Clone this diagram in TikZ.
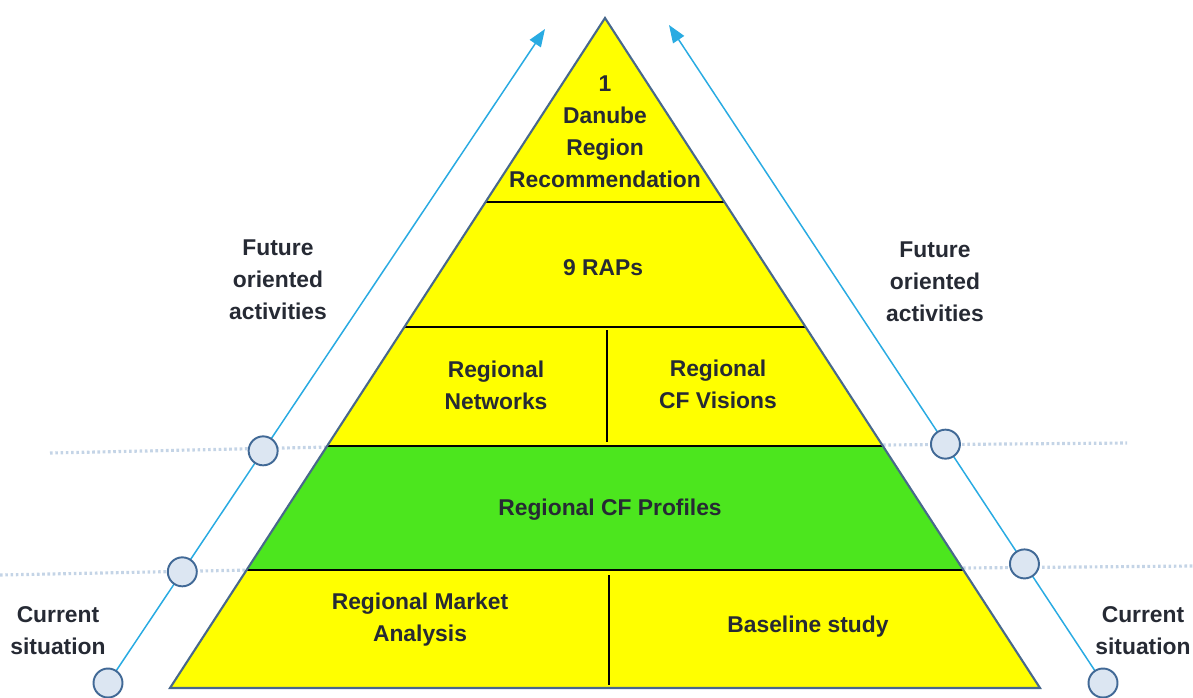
\documentclass[tikz,border=0pt]{standalone}
\usepackage{fontspec}
\setmainfont{Liberation Sans}
\usetikzlibrary{arrows.meta,calc}
\definecolor{pyel}{RGB}{255,255,0}
\definecolor{pgreen}{RGB}{76,230,30}
\definecolor{pedge}{RGB}{72,104,140}
\definecolor{ptext}{RGB}{38,42,52}
\definecolor{parrow}{RGB}{41,171,226}
\definecolor{pcfill}{RGB}{220,230,242}
\definecolor{pcedge}{RGB}{65,105,150}
\definecolor{pdot}{RGB}{196,212,230}
\begin{document}
\begin{tikzpicture}[x=0.02cm,y=-0.02cm,
 lbl/.style={font=\fontsize{13}{18.2}\selectfont\bfseries, text=ptext, align=center, inner sep=0},
 tier/.style={draw=black, line width=1.2pt},
 dotline/.style={draw=pdot, line width=1.8pt, dash pattern=on 1.5pt off 1.5pt},
 axisline/.style={draw=parrow, line width=0.85pt, -{Triangle[length=10pt,width=7.5pt]}},
 stage/.style={circle, draw=pcedge, fill=pcfill, line width=1.1pt, minimum size=0.58cm, inner sep=0}]
\useasboundingbox (0,0) rectangle (1193,697);

% dotted guide lines
\draw[dotline] (50,453) -- (330,447);
\draw[dotline] (0,575) -- (250,570);
\draw[dotline] (883,445) -- (1127,443);
\draw[dotline] (963,568) -- (1193,566);

% pyramid fills
\fill[pyel] (605,18) -- (1040,688) -- (170,688) -- cycle;
\fill[pgreen] (327.1,446) -- (882.9,446) -- (963.4,570) -- (246.6,570) -- cycle;

% tier lines
\draw[tier] (485.5,202) -- (724.5,202);
\draw[tier] (404.4,327) -- (805.6,327);
\draw[tier] (327.1,446) -- (882.9,446);
\draw[tier] (246.6,570) -- (963.4,570);
\draw[black, line width=1.1pt] (607,330) -- (607,442);
\draw[black, line width=1.1pt] (609,575) -- (609,685);

% outline
\draw[pedge, line width=1.2pt, line join=miter] (605,18) -- (1040,688) -- (170,688) -- cycle;

% axis lines
\coordinate (lb) at (108,683);
\coordinate (lt) at (545,29);
\coordinate (rb) at (1103,683);
\coordinate (rt) at (669,25);
\draw[axisline] (lb) -- (lt);
\draw[axisline] (rb) -- (rt);

% stage circles
\node[stage] (l1) at (lb) {};
\node[stage] (l2) at ($(lb)!0.170!(lt)$) {};
\node[stage] (l3) at ($(lb)!0.355!(lt)$) {};
\node[stage] (r1) at (rb) {};
\node[stage] (r2) at ($(rb)!0.181!(rt)$) {};
\node[stage] (r3) at ($(rb)!0.363!(rt)$) {};

% pyramid labels
\node[lbl] (top) at (605,132) {1\\Danube\\Region\\Recommendation};
\node[lbl] (raps) at (603,268) {9 RAPs};
\node[lbl] (net) at (496,385) {Regional\\Networks};
\node[lbl] (vis) at (718,384) {Regional\\CF Visions};
\node[lbl] (prof) at (610,510) {Regional CF Profiles};
\node[lbl] (mkt) at (420,620) {Regional Market\\Analysis};
\node[lbl] (base) at (808,627) {Baseline study};

% side labels
\node[lbl] (futl) at (278,280) {Future\\oriented\\activities};
\node[lbl] (futr) at (935,282) {Future\\oriented\\activities};
\node[lbl] (curl) at (58,631) {Current\\situation};
\node[lbl] (curr) at (1143,631) {Current\\situation};
\end{tikzpicture}
\end{document}
